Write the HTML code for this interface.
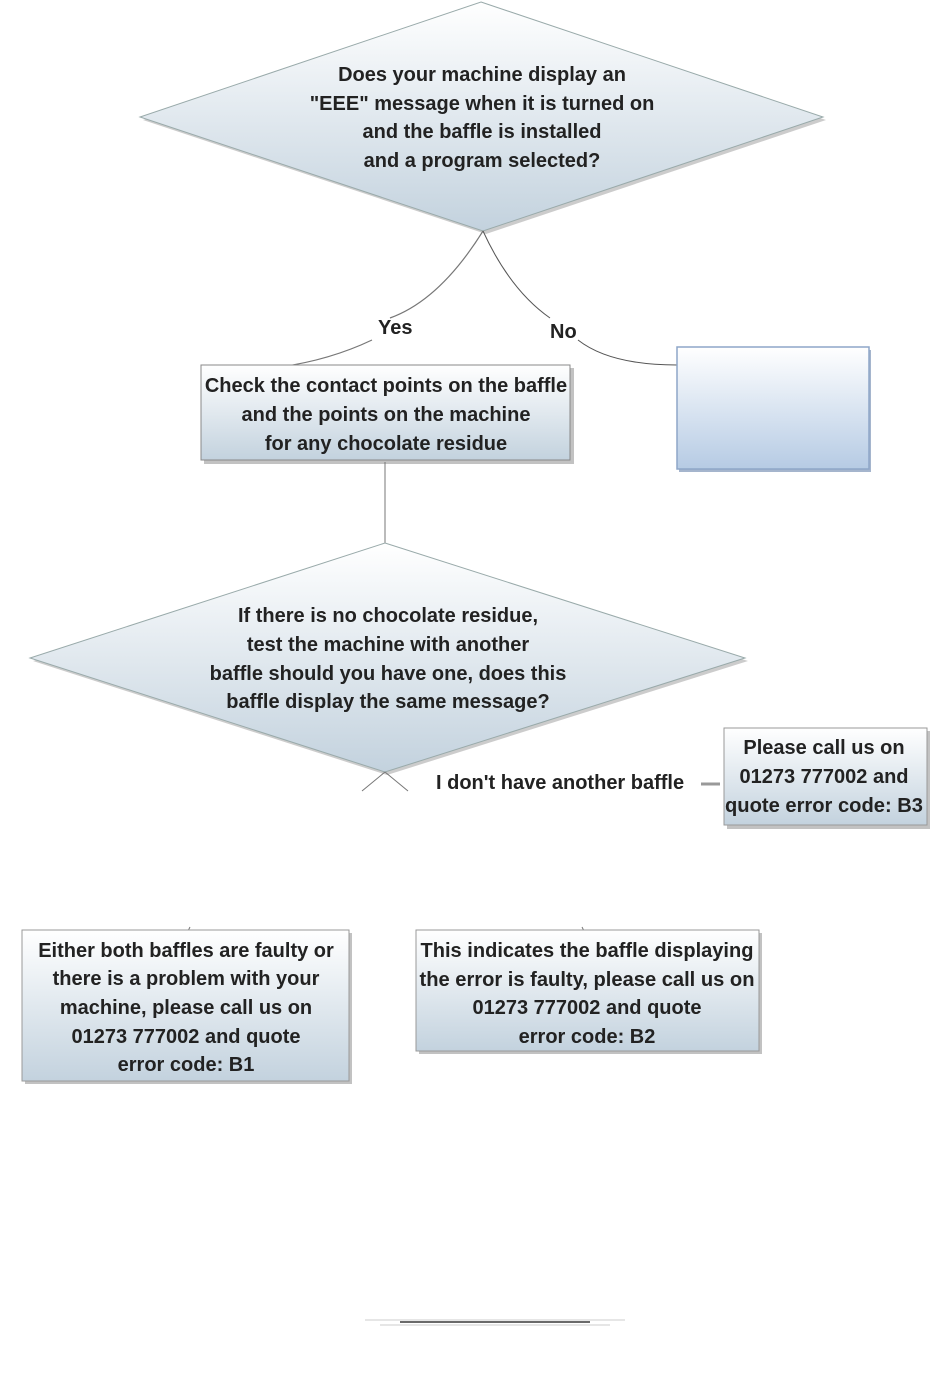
<!DOCTYPE html>
<html><head><meta charset="utf-8"><style>html,body{margin:0;padding:0;background:#fff}</style></head>
<body>
<svg width="950" height="1370" viewBox="0 0 950 1370" xmlns="http://www.w3.org/2000/svg" font-family="Liberation Sans, sans-serif" font-weight="bold" font-size="20" fill="#222">
<defs>
<linearGradient id="g" x1="0" y1="0" x2="0" y2="1"><stop offset="0" stop-color="#ffffff"/><stop offset="1" stop-color="#c3d2de"/></linearGradient>
<linearGradient id="gb" x1="0" y1="0" x2="0" y2="1"><stop offset="0" stop-color="#ffffff"/><stop offset="1" stop-color="#b6cbe4"/></linearGradient>
</defs>
<polygon points="483,5 826,120 486,234 143,120" fill="#999" opacity="0.5"/>
<polygon points="481,2 823,117 483,231 140,117" fill="url(#g)" stroke="#9aa" stroke-width="1"/>
<g text-anchor="middle">
<text x="482" y="81">Does your machine display an</text>
<text x="482" y="110">"EEE" message when it is turned on</text>
<text x="482" y="138">and the baffle is installed</text>
<text x="482" y="167">and a program selected?</text>
</g>
<path d="M483,231 Q440,300 390,318" fill="none" stroke="#777" stroke-width="1.2"/>
<path d="M372,340 Q330,360 280,367" fill="none" stroke="#777" stroke-width="1.2"/>
<text x="378" y="334">Yes</text>
<path d="M483,231 Q510,290 550,318" fill="none" stroke="#555" stroke-width="1"/>
<path d="M578,340 Q610,365 677,365" fill="none" stroke="#555" stroke-width="1"/>
<text x="550" y="338">No</text>
<rect x="204" y="368" width="370" height="96" fill="#999" opacity="0.6"/>
<rect x="201" y="365" width="369" height="95" fill="url(#g)" stroke="#888"/>
<g text-anchor="middle">
<text x="386" y="392">Check the contact points on the baffle</text>
<text x="386" y="421">and the points on the machine</text>
<text x="386" y="450">for any chocolate residue</text>
</g>
<rect x="679" y="350" width="192" height="122" fill="#8fa3c0" opacity="0.8"/>
<rect x="677" y="347" width="192" height="122" fill="url(#gb)" stroke="#8ea6c8" stroke-width="1.5"/>
<line x1="385" y1="462" x2="385" y2="543" stroke="#777" stroke-width="1"/>
<polygon points="387,546 748,661 387,775 33,661" fill="#999" opacity="0.5"/>
<polygon points="385,543 745,658 385,772 30,658" fill="url(#g)" stroke="#9aa" stroke-width="1"/>
<g text-anchor="middle">
<text x="388" y="622">If there is no chocolate residue,</text>
<text x="388" y="651">test the machine with another</text>
<text x="388" y="680">baffle should you have one, does this</text>
<text x="388" y="708">baffle display the same message?</text>
</g>
<line x1="385" y1="772" x2="362" y2="791" stroke="#777"/>
<line x1="385" y1="772" x2="408" y2="791" stroke="#777"/>
<text x="436" y="789">I don't have another baffle</text>
<line x1="701" y1="784" x2="720" y2="784" stroke="#999" stroke-width="3"/>
<rect x="727" y="731" width="203" height="98" fill="#999" opacity="0.6"/>
<rect x="724" y="728" width="203" height="97" fill="url(#g)" stroke="#999"/>
<g text-anchor="middle">
<text x="824" y="754">Please call us on</text>
<text x="824" y="783">01273 777002 and</text>
<text x="824" y="812" textLength="198" lengthAdjust="spacingAndGlyphs">quote error code: B3</text>
</g>
<line x1="190" y1="927" x2="188" y2="931" stroke="#777"/>
<rect x="25" y="933" width="327" height="151" fill="#999" opacity="0.6"/>
<rect x="22" y="930" width="327" height="151" fill="url(#g)" stroke="#999"/>
<g text-anchor="middle">
<text x="186" y="957">Either both baffles are faulty or</text>
<text x="186" y="985">there is a problem with your</text>
<text x="186" y="1014">machine, please call us on</text>
<text x="186" y="1043">01273 777002 and quote</text>
<text x="186" y="1071">error code: B1</text>
</g>
<line x1="582" y1="927" x2="584" y2="931" stroke="#777"/>
<rect x="419" y="933" width="343" height="121" fill="#999" opacity="0.6"/>
<rect x="416" y="930" width="343" height="121" fill="url(#g)" stroke="#999"/>
<g text-anchor="middle">
<text x="587" y="957" textLength="333" lengthAdjust="spacingAndGlyphs">This indicates the baffle displaying</text>
<text x="587" y="986" textLength="335" lengthAdjust="spacingAndGlyphs">the error is faulty, please call us on</text>
<text x="587" y="1014">01273 777002 and quote</text>
<text x="587" y="1043">error code: B2</text>
</g>
<line x1="365" y1="1320" x2="625" y2="1320" stroke="#ccc" stroke-width="1"/>
<line x1="400" y1="1322" x2="590" y2="1322" stroke="#111" stroke-width="1.2"/>
<line x1="380" y1="1325" x2="610" y2="1325" stroke="#bbb" stroke-width="0.8"/>
</svg>
</body></html>
